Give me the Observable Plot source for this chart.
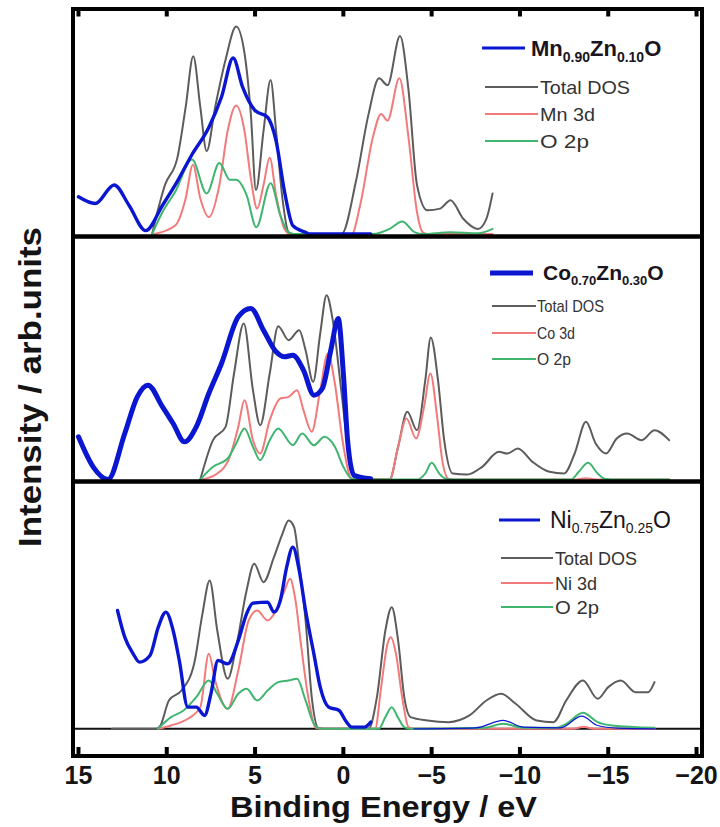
<!DOCTYPE html>
<html>
<head>
<meta charset="utf-8">
<script src="https://cdn.jsdelivr.net/npm/d3@7"></script>
<script src="https://cdn.jsdelivr.net/npm/@observablehq/plot@0.6"></script>
<style>
  html, body { margin: 0; padding: 0; background: #fff; }
  #wrap { position: relative; width: 720px; height: 827px; overflow: hidden; background: #fff; }
  #wrap > svg { position: absolute; left: 0; top: 0; }
</style>
</head>
<body>
<div id="wrap"></div>
<script>
// ---------- tick labels / axis ----------
const xTicks = [15, 10, 5, 0, -5, -10, -15, -20];
const xDomain = [15.31, -20.31];
const xLabel = "Binding Energy / eV";
const yLabel = "Intensity / arb.units";

// ---------- legend texts ----------
const mnFormula = [["Mn", false], ["0.90", true], ["Zn", false], ["0.10", true], ["O", false]];
const coFormula = [["Co", false], ["0.70", true], ["Zn", false], ["0.30", true], ["O", false]];
const niFormula = [["Ni", false], ["0.75", true], ["Zn", false], ["0.25", true], ["O", false]];
const mnItems = ["Total DOS", "Mn 3d", "O 2p"];
const coItems = ["Total DOS", "Co 3d", "O 2p"];
const niItems = ["Total DOS", "Ni 3d", "O 2p"];

// ---------- data: [binding energy (eV), intensity (arb.)] ----------
// Panel 1: Mn0.90Zn0.10O
const mnSpectrum = [[15,110],[14.05,90],[12.98,145],[12.14,85],[11.19,10],[10.24,85],[9.52,145],[8.57,235],[7.62,315],[6.9,405],[6.24,520],[5.71,435],[5.0,365],[4.29,345],[3.81,275],[3.33,125],[2.86,25],[2.14,5],[1.9,0],[-1.55,0]];
const mnTotal = [[10.83,0],[10.1,145],[9.4,225],[8.93,375],[8.5,525],[8.1,375],[7.74,245],[7.26,375],[6.67,515],[6.07,613],[5.6,535],[5.24,355],[4.95,130],[4.52,305],[4.12,455],[3.81,305],[3.45,105],[3.1,5],[2.8,0],[0.1,0],[-0.71,155],[-1.43,355],[-2.02,460],[-2.5,440],[-3.21,585],[-3.69,425],[-4.17,145],[-4.76,70],[-5.48,75],[-6.07,100],[-6.79,45],[-7.62,15],[-8.1,45],[-8.45,120]];
const mn3d = [[10.7,0],[9.52,25],[8.93,105],[8.52,205],[8.1,105],[7.62,50],[7.02,145],[6.55,305],[6.07,380],[5.6,305],[5.24,165],[4.88,75],[4.52,145],[4.17,225],[3.81,115],[3.33,15],[3.0,0],[-0.48,0],[-0.95,85],[-1.67,285],[-2.14,355],[-2.5,335],[-3.17,460],[-3.69,285],[-4.17,65],[-4.5,5],[-4.8,0],[-8.45,0]];
const mnO2p = [[10.83,0],[10.24,65],[9.52,125],[8.57,220],[7.74,120],[7.02,210],[6.43,160],[6.07,160],[5.48,115],[4.93,20],[4.12,150],[3.57,55],[3.1,5],[2.8,0],[-1.67,0],[-2.62,15],[-3.33,37],[-4.05,5],[-4.5,0],[-6.07,5],[-7.62,2],[-8.45,15]];

// Panel 2: Co0.70Zn0.30O
const coSpectrum = [[15,128],[14.17,38],[13.33,0],[12.38,138],[11.67,248],[11.07,283],[10.24,218],[9.64,168],[9.0,113],[8.33,158],[7.62,258],[6.9,348],[5.95,488],[5.24,513],[4.52,448],[3.81,383],[3.33,368],[2.86,373],[2.26,328],[1.67,253],[1.19,273],[0.71,388],[0.29,483],[0,318],[-0.24,118],[-0.6,13],[-1.55,2]];
const coTotal = [[8.1,0],[7.38,118],[6.67,158],[6.19,318],[5.64,468],[5.12,268],[4.71,163],[4.17,318],[3.69,460],[3.1,418],[2.5,448],[2.14,388],[1.71,293],[1.31,438],[0.95,553],[0.6,478],[0.12,268],[-0.36,58],[-0.71,2],[-1.2,0],[-2.62,0],[-3.1,98],[-3.62,203],[-4.17,148],[-4.64,298],[-4.95,426],[-5.36,298],[-5.71,118],[-6.19,18],[-7.02,15],[-7.86,38],[-8.81,83],[-9.29,78],[-9.88,93],[-10.71,53],[-11.67,23],[-12.5,18],[-13.1,78],[-13.74,173],[-14.29,108],[-14.88,78],[-15.48,123],[-16.07,138],[-16.9,118],[-17.62,148],[-18.45,118]];
const co3d = [[8.0,0],[7.14,18],[6.43,68],[5.95,158],[5.6,238],[5.12,118],[4.71,78],[4.17,178],[3.57,243],[3.1,248],[2.62,268],[2.26,208],[1.79,143],[1.31,268],[0.88,378],[0.48,288],[0.05,118],[-0.48,2],[-0.9,0],[-2.62,0],[-3.1,98],[-3.57,183],[-4.12,123],[-4.57,218],[-4.93,318],[-5.31,188],[-5.6,58],[-5.95,2],[-6.3,0],[-13.2,0],[-13.74,4],[-14.3,0],[-18.45,0]];
const coO2p = [[8.1,0],[7.38,38],[6.55,63],[6.07,108],[5.6,153],[5.12,98],[4.71,58],[4.17,118],[3.69,153],[2.86,103],[2.33,138],[1.67,103],[1.07,128],[0.48,98],[0,38],[-0.48,2],[-0.9,0],[-4.2,0],[-4.64,18],[-5.0,50],[-5.43,18],[-5.8,2],[-6.2,0],[-12.9,0],[-13.33,23],[-13.86,50],[-14.4,18],[-14.8,2],[-15.2,0],[-18.45,0]];

// Panel 3: Ni0.75Zn0.25O
const niSpectrum = [[12.79,355],[12.38,275],[11.9,225],[11.55,200],[10.95,220],[10.48,305],[10.05,350],[9.64,295],[9.29,205],[8.81,65],[8.33,65],[7.86,40],[7.5,105],[7.1,205],[6.55,195],[5.95,265],[5.48,345],[5.12,377],[4.29,380],[3.93,350],[3.57,385],[3.21,485],[2.86,545],[2.5,475],[2.14,355],[1.67,225],[1.31,125],[0.83,65],[0.24,55],[-0.12,25],[-0.48,5],[-1.19,5],[-1.55,20]];
const niSpectrumTail = [[-4.0,0],[-7.5,3],[-9.05,25],[-10.2,5],[-12.3,3],[-13.5,38],[-14.4,10],[-15.5,2],[-17.62,0]];
const niTotal = [[13.1,0],[10.6,0],[10.36,10],[9.88,85],[9.17,115],[8.45,195],[7.98,345],[7.57,445],[7.14,295],[6.55,150],[6.07,245],[5.48,415],[5.05,495],[4.52,440],[3.93,515],[3.45,585],[3.1,625],[2.79,605],[2.5,495],[2.14,325],[1.79,95],[1.43,3],[1.1,0],[-1.43,0],[-1.9,95],[-2.38,295],[-2.74,365],[-3.1,265],[-3.45,95],[-3.81,35],[-4.76,25],[-5.95,20],[-7.14,40],[-8.1,85],[-8.93,105],[-9.76,75],[-10.95,25],[-11.9,20],[-12.62,85],[-13.57,145],[-14.4,90],[-15.0,125],[-15.71,145],[-16.55,110],[-17.26,110],[-17.62,140]];
const ni3d = [[10.5,0],[9.76,10],[8.81,30],[8.1,65],[7.62,225],[7.26,145],[6.55,60],[5.95,175],[5.36,325],[4.88,355],[4.29,325],[3.81,355],[3.33,415],[3.02,450],[2.74,395],[2.38,245],[2.02,105],[1.55,3],[1.2,0],[-1.8,0],[-2.14,125],[-2.5,255],[-2.69,275],[-2.98,225],[-3.33,95],[-3.69,5],[-4.0,0],[-13.0,0],[-13.6,6],[-14.2,0],[-17.62,0]];
const niO2p = [[10.5,0],[9.76,35],[9.05,55],[8.33,95],[7.62,145],[7.14,105],[6.55,60],[5.95,105],[5.48,120],[4.88,85],[4.29,115],[3.69,140],[3.1,145],[2.62,150],[2.14,85],[1.67,15],[1.3,0],[-2.0,0],[-2.38,35],[-2.74,65],[-3.1,33],[-3.45,5],[-3.8,0],[-8.0,3],[-9.05,15],[-10.2,3],[-12.0,3],[-12.62,15],[-13.57,48],[-14.4,20],[-15.2,10],[-17.62,3]];

// ---------- style ----------
const BLUE = "#0a16cf", GRAY = "#5c5c5c", RED = "#f27a7a", GREEN = "#3fb56f";
const W = 720, H = 827;
const FONT = "'Liberation Sans', Arial, Helvetica, sans-serif";

function panel({top, bottom, base, hMax, series, topTicks = false, bottomAxis = false, baseRule = false}) {
  const marks = [];
  if (baseRule) marks.push(Plot.ruleY([0], {stroke: "#111", strokeWidth: 2}));
  for (const s of series) {
    marks.push(Plot.line(s.data, {x: d => d[0], y: d => d[1], stroke: s.color, strokeWidth: s.width,
      curve: "monotone-x", strokeLinejoin: "round", strokeLinecap: "round"}));
  }
  marks.push(Plot.frame({stroke: "#000", strokeWidth: 4}));
  if (topTicks) marks.push(Plot.ruleX(xTicks, {stroke: "#000", strokeWidth: 4, insetBottom: bottom - top - 8}));
  if (bottomAxis) marks.push(Plot.ruleX(xTicks, {stroke: "#000", strokeWidth: 4, insetTop: bottom - top - 8.5}));
  return Plot.plot({
    width: W, height: H,
    marginLeft: 72.5, marginRight: W - 701.5, marginTop: top, marginBottom: H - bottom,
    x: {domain: xDomain, axis: bottomAxis ? "bottom" : null, ticks: xTicks, tickSize: 0, tickPadding: 10, label: null},
    y: {domain: [0, hMax], range: [base, top], axis: null},
    style: {background: "transparent", overflow: "visible", fontFamily: FONT, fontSize: "25px", fontWeight: "bold", color: "#151515"},
    marks
  });
}

const wrap = document.getElementById("wrap");
wrap.appendChild(panel({top: 8.5, bottom: 236, base: 233.5, hMax: 665, topTicks: true, series: [
  {data: mnTotal, color: GRAY, width: 2},
  {data: mn3d, color: RED, width: 2},
  {data: mnO2p, color: GREEN, width: 2},
  {data: mnSpectrum, color: BLUE, width: 3.4}
]}));
wrap.appendChild(panel({top: 236, bottom: 481, base: 479, hMax: 729, series: [
  {data: coTotal, color: GRAY, width: 2},
  {data: co3d, color: RED, width: 2},
  {data: coO2p, color: GREEN, width: 2},
  {data: coSpectrum, color: BLUE, width: 5}
]}));
wrap.appendChild(panel({top: 481, bottom: 755.5, base: 728.3, hMax: 742, bottomAxis: true, baseRule: true, series: [
  {data: niTotal, color: GRAY, width: 2},
  {data: ni3d, color: RED, width: 2},
  {data: niO2p, color: GREEN, width: 2},
  {data: niSpectrumTail, color: BLUE, width: 1.2},
  {data: niSpectrum, color: BLUE, width: 3.4}
]}));

// ---------- overlay: axis titles and legends ----------
const ov = d3.select("#wrap").append("svg").attr("width", W).attr("height", H)
  .style("font-family", FONT);

ov.append("text")
  .attr("transform", "translate(41,387) rotate(-90)")
  .attr("text-anchor", "middle").attr("font-size", 31).attr("font-weight", "bold").attr("fill", "#141414")
  .attr("textLength", 320).attr("lengthAdjust", "spacingAndGlyphs")
  .text(yLabel);

ov.append("text")
  .attr("x", 383.5).attr("y", 817)
  .attr("text-anchor", "middle").attr("font-size", 29).attr("font-weight", "bold").attr("fill", "#141414")
  .attr("textLength", 307).attr("lengthAdjust", "spacingAndGlyphs")
  .text(xLabel);

function legend({lineX, lineW, lineY, blueW, fx, fy, fSize, subSize, subDy, bold, formula, labels, itemX, itemLineX, itemLineW, rowsY, itemSize, itemLens}) {
  ov.append("line").attr("x1", lineX).attr("x2", lineX + lineW).attr("y1", lineY).attr("y2", lineY)
    .attr("stroke", BLUE).attr("stroke-width", blueW);
  const t = ov.append("text").attr("x", fx).attr("y", fy).attr("font-size", fSize)
    .attr("font-weight", bold ? "bold" : "normal").attr("fill", "#1a1420");
  let prevSub = false;
  for (const [s, sub] of formula) {
    const ts = t.append("tspan").text(s).attr("font-size", sub ? subSize : fSize);
    if (sub && !prevSub) ts.attr("dy", subDy);
    if (!sub && prevSub) ts.attr("dy", -subDy);
    prevSub = sub;
  }
  const colors = [GRAY, RED, GREEN];
  labels.forEach((lab, i) => {
    ov.append("line").attr("x1", itemLineX).attr("x2", itemLineX + itemLineW)
      .attr("y1", rowsY[i]).attr("y2", rowsY[i]).attr("stroke", colors[i]).attr("stroke-width", 2.2);
    ov.append("text").attr("x", itemX).attr("y", rowsY[i]).attr("dy", "0.36em")
      .attr("font-size", itemSize).attr("fill", "#333")
      .attr("textLength", itemLens[i]).attr("lengthAdjust", "spacingAndGlyphs")
      .text(lab);
  });
}

legend({lineX: 482, lineW: 43, lineY: 48, blueW: 3, fx: 531, fy: 56, fSize: 22, subSize: 14, subDy: 6, bold: true,
  formula: mnFormula, labels: mnItems, itemLineX: 485, itemLineW: 53, itemX: 540,
  rowsY: [87, 114, 141], itemSize: 19, itemLens: [90, 55, 49]});
legend({lineX: 490, lineW: 43, lineY: 273, blueW: 5, fx: 543, fy: 280, fSize: 21, subSize: 13, subDy: 5, bold: true,
  formula: coFormula, labels: coItems, itemLineX: 492, itemLineW: 44, itemX: 537,
  rowsY: [306, 333, 359], itemSize: 17, itemLens: [67, 38, 34]});
legend({lineX: 499, lineW: 41, lineY: 520, blueW: 3, fx: 550, fy: 528, fSize: 23, subSize: 14, subDy: 5, bold: false,
  formula: niFormula, labels: niItems, itemLineX: 501, itemLineW: 52, itemX: 555,
  rowsY: [558, 583, 607], itemSize: 19, itemLens: [82, 42, 44]});
</script>
</body>
</html>
